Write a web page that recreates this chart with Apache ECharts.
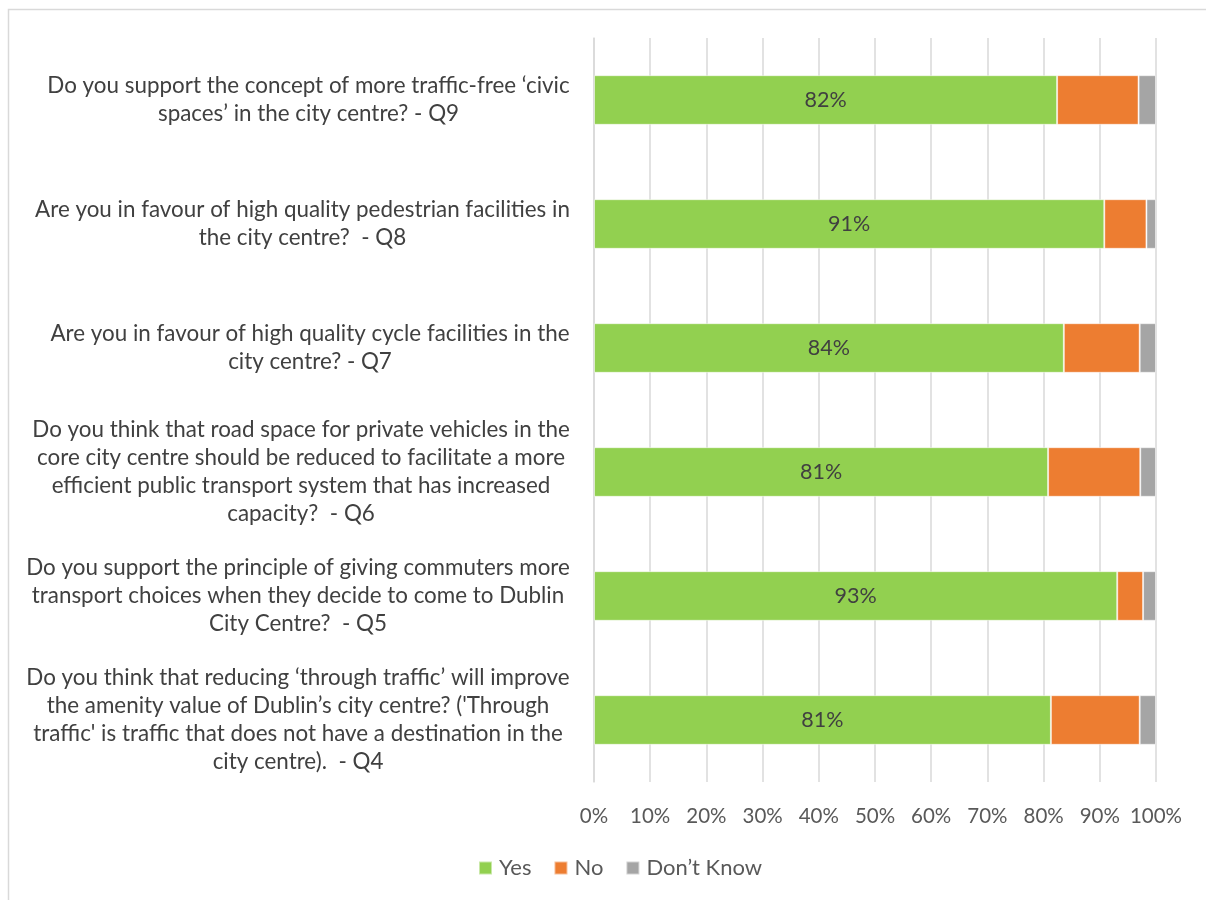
<!DOCTYPE html>
<html>
<head>
<meta charset="utf-8">
<script src="https://cdn.jsdelivr.net/npm/echarts@6/dist/echarts.min.js"></script>
<style>
  html, body { margin: 0; padding: 0; background: #fff; }
  #chart { width: 1206px; height: 900px; }
</style>
</head>
<body>
<div id="chart"></div>
<script>
  // questions, bottom to top (category axis starts at the bottom)
  var questions = [
    "Do you think that reducing \u2018through traffic\u2019 will improve\nthe amenity value of Dublin\u2019s city centre? ('Through\ntraffic' is traffic that does not have a destination in the\ncity centre).  - Q4",
    "Do you support the principle of giving commuters more\ntransport choices when they decide to come to Dublin\nCity Centre?  - Q5",
    "Do you think that road space for private vehicles in the\ncore city centre should be reduced to facilitate a more\nefficient public transport system that has increased\ncapacity?  - Q6",
    "Are you in favour of high quality cycle facilities in the\ncity centre? - Q7",
    "Are you in favour of high quality pedestrian facilities in\nthe city centre?  - Q8",
    "Do you support the concept of more traffic-free \u2018civic\nspaces\u2019 in the city centre? - Q9"
  ];
  var yesVals = [81.3, 93.1, 80.8, 83.6, 90.8, 82.4];
  var noVals = [15.8, 4.6, 16.4, 13.5, 7.5, 14.5];
  var dkVals = [2.9, 2.3, 2.8, 2.9, 1.7, 3.1];
  var xTicks = ['0%', '10%', '20%', '30%', '40%', '50%', '60%', '70%', '80%', '90%', '100%'];

  var labelFont = 22.4;

  // each label block is right-aligned, its lines centred inside it
  var ctx = document.createElement('canvas').getContext('2d');
  ctx.font = labelFont + 'px Lato';
  var rich = {};
  questions.forEach(function (q, i) {
    var w = 0;
    q.split('\n').forEach(function (line) {
      w = Math.max(w, ctx.measureText(line).width);
    });
    rich['q' + i] = {
      width: Math.ceil(w),
      align: 'center',
      fontSize: labelFont,
      lineHeight: 28,
      color: '#404040',
      fontFamily: 'Lato'
    };
  });

  var chart = echarts.init(document.getElementById('chart'));
  chart.setOption({
    animation: false,
    textStyle: { fontFamily: 'Lato' },
    color: ['#92D050', '#ED7D31', '#A5A5A5'],
    graphic: [{
      type: 'rect',
      shape: { x: 8.5, y: 9.5, width: 1300, height: 1000 },
      style: { fill: 'none', stroke: '#D9D9D9', lineWidth: 1.5 },
      silent: true
    }],
    legend: {
      bottom: 16,
      left: 473,
      itemWidth: 13,
      itemHeight: 13,
      itemGap: 22,
      icon: 'rect',
      textStyle: { fontSize: 22, color: '#595959', fontFamily: 'Lato', padding: [0, 0, 0, 2] },
      data: ['Yes', 'No', 'Don\u2019t Know']
    },
    grid: { left: 594, right: 50, top: 38, bottom: 118 },
    xAxis: {
      type: 'value',
      min: 0,
      max: 100,
      interval: 10,
      axisLine: { show: false },
      axisTick: { show: false },
      splitLine: { lineStyle: { color: '#D9D9D9', width: 1.5 } },
      axisLabel: {
        margin: 24,
        fontSize: 20.5,
        color: '#595959',
        formatter: function (v) { return xTicks[Math.round(v / 10)]; }
      }
    },
    yAxis: {
      type: 'category',
      data: questions,
      axisLine: { show: true, lineStyle: { color: '#D9D9D9', width: 1.5 } },
      axisTick: { show: false },
      axisLabel: {
        margin: 24,
        align: 'right',
        formatter: function (v, i) {
          return v.split('\n').map(function (line) {
            return '{q' + i + '|' + line + '}';
          }).join('\n');
        },
        rich: rich
      }
    },
    series: [
      {
        name: 'Yes',
        type: 'bar',
        stack: 'all',
        barCategoryGap: '60%',
        data: yesVals,
        itemStyle: { borderColor: 'rgba(255,255,255,0.5)', borderWidth: 1 },
        label: {
          show: true,
          position: 'inside',
          fontSize: 21.5,
          color: '#404040',
          formatter: function (p) { return Math.round(p.value) + '%'; }
        }
      },
      {
        name: 'No',
        type: 'bar',
        stack: 'all',
        data: noVals,
        itemStyle: { borderColor: 'rgba(255,255,255,0.5)', borderWidth: 1 }
      },
      {
        name: 'Don\u2019t Know',
        type: 'bar',
        stack: 'all',
        data: dkVals,
        itemStyle: { borderColor: 'rgba(255,255,255,0.5)', borderWidth: 1 }
      }
    ]
  });
</script>
</body>
</html>
